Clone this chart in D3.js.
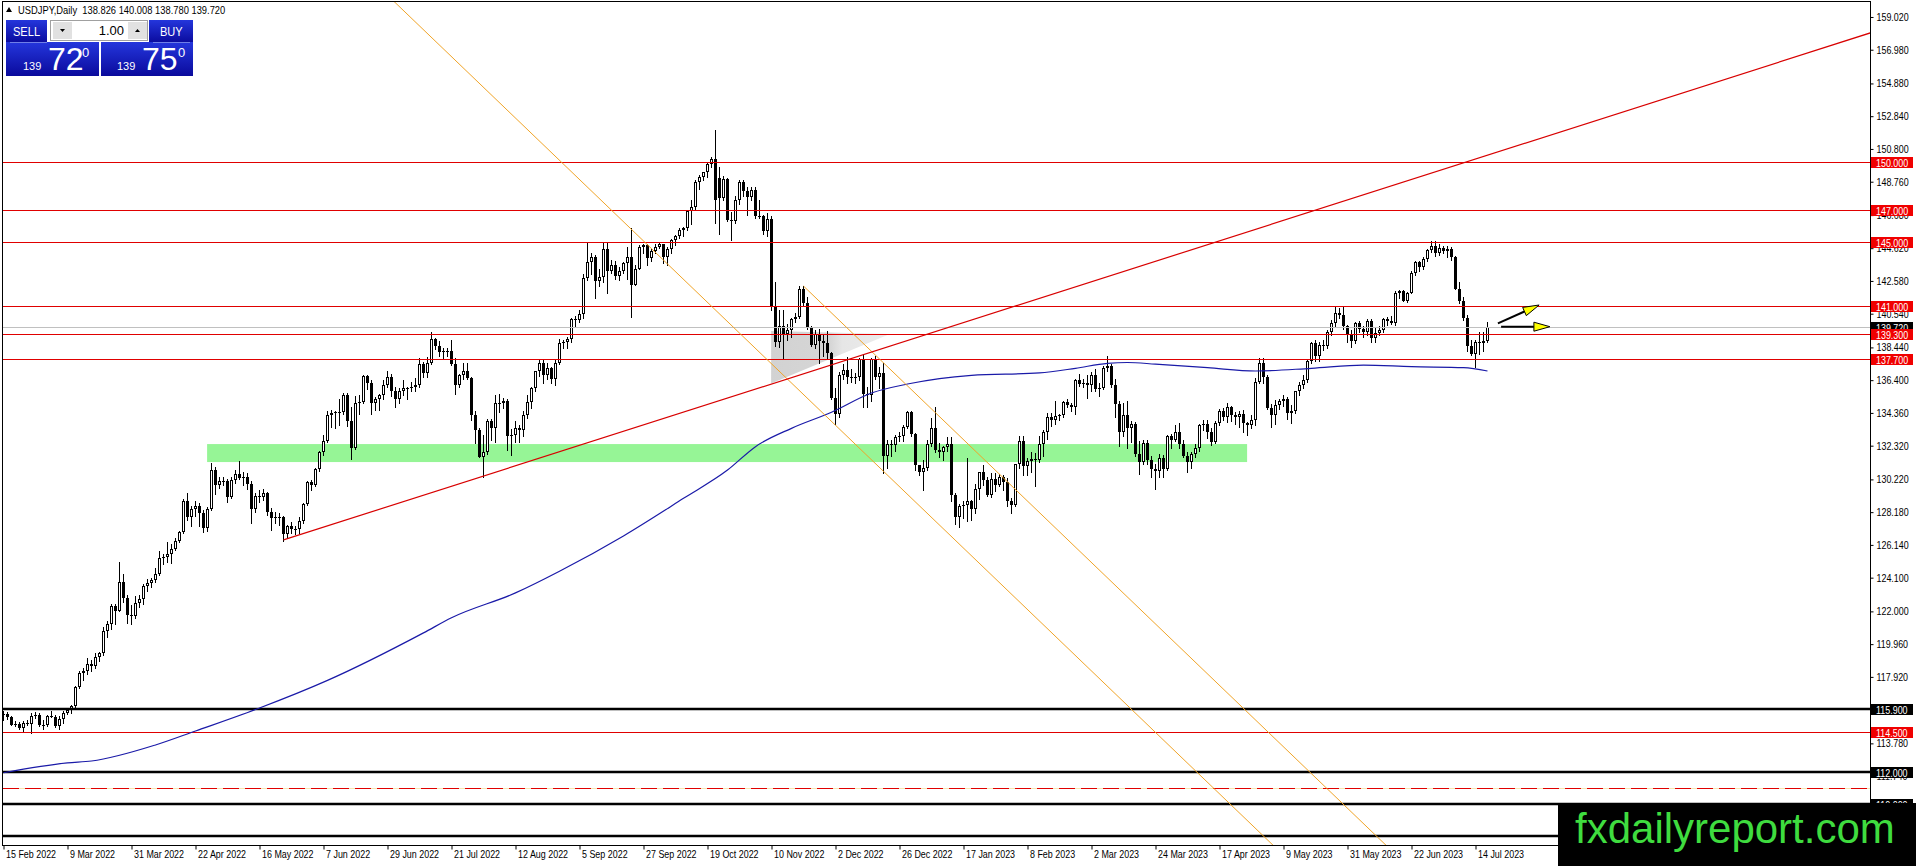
<!DOCTYPE html>
<html>
<head>
<meta charset="utf-8">
<script src="https://d3js.org/d3.v7.min.js"></script>
<style>
 body { margin: 0; background: #fff; overflow: hidden; }
 svg text { font-family: "Liberation Sans", Arial, sans-serif; }
</style>
</head>
<body>
<svg width="1916" height="866"></svg>
<script>
// daily candles, [open, high, low, close], one array per month
var feb22 = [[115.55,115.80,115.25,115.60],[115.60,115.75,115.30,115.45],[115.45,115.50,114.90,114.95],[114.95,115.20,114.85,115.00],[115.00,115.10,114.70,114.75],
 [114.75,115.20,114.50,115.05],[115.05,115.25,114.90,115.00],[115.00,115.70,114.40,115.50],[115.50,115.75,115.35,115.55],[115.55,115.70,114.85,114.95]];
var mar22 = [[114.95,115.25,114.70,114.90],[114.90,115.55,114.85,115.50],[115.50,115.80,115.40,115.45],[115.45,115.55,114.80,114.85],[114.85,115.50,114.65,115.30],
 [115.30,115.80,115.05,115.70],[115.70,116.00,115.60,115.85],[115.85,116.20,115.70,116.10],[116.10,117.35,116.00,117.30],[117.30,118.30,117.25,118.15],
 [118.15,118.45,117.70,118.30],[118.30,119.10,118.10,118.75],[118.75,119.00,118.30,118.60],[118.60,119.40,118.45,119.15],[119.15,119.45,118.90,119.40],
 [119.40,121.00,119.30,120.80],[120.80,121.40,120.40,121.20],[121.20,122.45,120.90,122.35],[122.35,122.45,121.20,122.05],[122.05,125.10,122.00,123.85],
 [123.85,124.30,122.60,122.85],[122.85,123.00,121.30,121.75],[121.75,122.40,121.20,121.70]];
var apr22 = [[121.70,122.95,121.60,122.50],[122.50,123.05,122.30,122.75],[122.75,123.70,122.45,123.60],[123.60,124.00,123.30,123.75],[123.75,124.10,123.50,123.95],
 [123.95,124.70,123.85,124.30],[124.30,125.75,124.25,125.35],[125.35,125.60,124.95,125.40],[125.40,126.30,125.10,125.60],[125.60,126.20,125.00,125.90],
 [125.90,126.55,125.85,126.40],[126.40,127.00,126.30,126.95],[126.95,129.00,126.90,128.90],[128.90,129.40,127.70,127.85],[127.85,128.55,127.30,128.40],
 [128.40,128.90,127.95,128.55],[128.55,128.75,127.30,128.10],[128.10,128.30,126.95,127.20],[127.20,128.50,127.00,128.40],[128.40,131.25,128.30,130.80],
 [130.80,131.00,129.30,129.85]];
var may22 = [[129.85,130.40,129.70,130.15],[130.15,130.40,129.85,130.10],[130.10,130.25,128.80,129.10],[129.10,130.40,129.05,130.20],[130.20,130.80,130.00,130.55],
 [130.55,131.35,130.25,130.30],[130.30,130.65,129.85,130.40],[130.40,130.60,129.60,129.95],[129.95,130.15,127.50,128.35],[128.35,129.35,128.20,129.20],
 [129.20,129.55,128.80,129.15],[129.15,129.60,128.95,129.40],[129.40,129.45,128.00,128.20],[128.20,128.45,127.05,127.80],[127.80,128.20,127.50,127.85],
 [127.85,128.10,127.40,127.90],[127.90,127.95,126.40,126.85],[126.85,127.40,126.55,127.30],[127.30,127.55,126.90,127.10],[127.10,127.30,126.80,127.10],
 [127.10,127.90,126.90,127.60],[127.60,128.75,127.50,128.70]];
var jun22 = [[128.70,130.15,128.60,130.05],[130.05,130.20,129.55,129.90],[129.90,130.95,129.80,130.85],[130.85,132.00,130.75,131.90],[131.90,133.00,131.75,132.60],
 [132.60,134.50,132.55,134.25],[134.25,134.55,133.50,134.35],[134.35,134.45,133.40,134.40],[134.40,135.20,133.60,134.40],[134.40,135.60,134.30,135.45],
 [135.45,135.60,133.55,133.85],[133.85,134.70,131.50,132.20],[132.20,135.40,132.10,134.95],[134.95,135.45,134.30,135.05],[135.05,136.70,134.95,136.65],
 [136.65,136.70,135.85,136.20],[136.20,136.40,134.30,134.95],[134.95,135.35,134.55,135.20],[135.20,135.55,134.55,135.45],[135.45,136.40,135.25,136.10],
 [136.10,137.00,136.00,136.60],[136.60,136.80,135.40,135.70]];
var jul22 = [[135.70,135.95,134.75,135.20],[135.20,135.90,135.00,135.70],[135.70,136.40,135.50,135.90],[135.90,136.00,135.25,135.90],[135.90,136.30,135.70,136.00],
 [136.00,136.55,135.75,136.10],[136.10,137.75,136.00,137.40],[137.40,137.55,136.60,136.85],[136.85,137.85,136.60,137.45],[137.45,139.40,137.40,138.95],
 [138.95,139.05,138.35,138.55],[138.55,138.85,137.90,138.15],[138.15,138.40,137.70,138.20],[138.20,138.40,137.90,138.20],[138.20,138.90,137.35,137.40],
 [137.40,137.80,135.55,136.10],[136.10,136.80,135.95,136.70],[136.70,137.45,136.50,136.95],[136.95,137.45,136.45,136.55],[136.55,136.60,133.90,134.25],
 [134.25,134.50,132.50,133.30]];
var aug22 = [[133.30,133.40,131.60,131.60],[131.60,133.00,130.40,131.90],[131.90,134.00,131.80,133.85],[133.85,134.00,132.70,133.40],[133.40,135.50,132.55,135.00],
 [135.00,135.55,134.40,134.95],[134.95,135.30,134.65,135.10],[135.10,135.20,132.05,132.90],[132.90,133.35,131.75,133.00],[133.00,133.85,132.55,133.45],
 [133.45,133.60,132.55,133.30],[133.30,134.50,132.90,134.20],[134.20,135.45,134.05,135.05],[135.05,135.95,134.65,135.90],[135.90,137.00,135.70,136.95],
 [136.95,137.70,136.65,137.50],[137.50,137.65,136.25,136.75],[136.75,137.50,136.45,137.15],[137.15,137.25,136.20,136.50],[136.50,137.70,136.10,137.45],
 [137.45,138.95,137.40,138.70],[138.70,138.90,138.40,138.75],[138.75,139.10,138.40,138.95]];
var sep22 = [[138.95,140.25,138.80,140.20],[140.20,140.40,139.70,140.15],[140.15,140.80,140.05,140.55],[140.55,143.00,140.30,142.75],[142.75,144.95,142.65,143.75],
 [143.75,144.30,143.00,144.10],[144.10,144.20,141.50,142.55],[142.55,143.30,142.25,142.80],[142.80,144.95,142.50,144.60],[144.60,145.00,141.85,143.20],
 [143.20,143.90,143.10,143.55],[143.55,143.80,142.70,142.90],[142.90,143.45,142.65,143.20],[143.20,143.75,143.10,143.70],[143.70,144.70,142.70,144.05],
 [144.05,145.90,140.35,142.35],[142.35,143.60,142.30,143.35],[143.35,144.80,143.30,144.70],[144.70,144.85,144.35,144.80],[144.80,144.90,143.55,144.00],
 [144.00,144.60,143.85,144.45],[144.45,144.85,144.30,144.70]];
var oct22 = [[144.70,145.00,144.65,144.85],[144.85,144.90,143.70,144.10],[144.10,144.70,143.55,144.55],[144.55,145.20,144.30,145.10],[145.10,145.45,144.80,145.35],
 [145.35,145.90,145.25,145.75],[145.75,145.95,145.40,145.85],[145.85,146.95,145.75,146.95],[146.95,147.65,146.10,147.20],[147.20,148.85,147.05,148.75],
 [148.75,149.15,148.30,149.05],[149.05,149.30,148.85,149.35],[149.35,149.95,149.05,149.85],[149.85,150.30,149.65,150.15],[150.15,151.95,146.20,147.65],
 [149.00,149.70,145.50,147.75],[147.75,149.10,147.60,148.95],[148.95,149.00,146.30,146.40],[146.40,146.90,145.10,146.30],[146.30,147.90,146.20,147.60],
 [147.60,148.85,147.40,148.75]];
var nov22 = [[148.75,148.85,147.90,148.20],[148.20,148.40,146.70,147.80],[147.80,148.40,147.60,148.25],[148.25,148.40,146.50,146.60],[146.60,147.60,146.50,146.65],
 [146.65,146.70,145.50,145.70],[145.70,146.80,145.40,146.45],[146.45,146.60,140.80,141.00],[141.00,142.50,138.50,138.80],[138.80,140.80,138.45,139.80],
 [139.80,140.80,137.70,139.30],[139.30,139.90,138.90,139.50],[139.50,140.30,139.10,140.20],[140.20,140.60,140.00,140.35],[140.35,142.25,140.30,142.10],
 [142.10,142.25,141.10,141.20],[141.20,141.60,139.60,139.70],[139.70,139.80,138.50,138.60],[138.60,139.55,138.40,139.25],[139.25,139.60,137.50,138.85],
 [138.85,139.30,137.90,138.70],[138.70,139.45,137.70,138.10]];
var dec22 = [[138.10,138.15,135.20,135.30],[135.30,135.90,133.65,134.30],[134.30,136.90,134.10,136.70],[136.70,137.40,136.50,137.05],[137.05,137.85,136.20,136.60],
 [136.60,137.10,136.30,136.55],[136.55,136.85,136.20,136.60],[136.60,137.75,136.40,137.70],[137.70,138.00,134.70,135.55],[135.55,136.00,134.70,135.45],
 [135.45,137.80,135.10,137.70],[137.70,137.90,136.50,136.60],[136.60,137.20,135.90,136.85],[136.85,137.50,130.60,131.70],[131.70,132.70,130.90,132.45],
 [132.45,132.70,131.70,132.35],[132.35,133.00,132.00,132.85],[132.85,133.15,132.60,132.90],[132.90,133.60,132.60,133.50],[133.50,134.50,133.40,134.40],
 [134.40,134.45,132.90,133.05],[133.05,133.10,130.80,131.10]];
var jan23 = [[131.10,131.10,130.50,130.70],[130.70,131.40,129.55,130.90],[130.90,132.70,130.80,132.45],[132.45,134.05,132.30,133.40],[133.40,134.75,131.95,132.05],
 [132.05,132.50,131.60,131.90],[131.90,132.30,131.45,132.25],[132.25,132.85,132.00,132.45],[132.45,132.85,128.85,129.25],[129.25,129.40,127.45,127.90],
 [127.90,128.70,127.25,128.55],[128.55,128.85,127.80,128.60],[128.60,131.55,127.60,128.90],[128.90,128.95,127.70,128.40],[128.40,129.95,128.10,129.60],
 [129.60,130.70,129.00,130.65],[130.65,131.10,129.90,130.20],[130.20,130.40,129.20,129.25],[129.25,130.60,129.15,130.25],[130.25,130.60,129.50,129.90],
 [129.90,130.55,129.80,130.40],[130.40,130.50,129.55,130.05]];
var feb23 = [[130.05,130.30,128.55,128.90],[128.90,129.05,128.10,128.65],[128.65,131.20,128.55,131.15],[131.15,132.90,130.95,132.60],[132.60,132.90,130.50,131.05],
 [131.05,131.55,130.50,131.35],[131.35,131.95,130.65,131.50],[131.50,131.85,129.80,131.40],[131.40,132.90,131.30,132.40],[132.40,133.30,131.70,133.15],
 [133.15,134.35,132.75,134.10],[134.10,134.35,133.55,133.90],[133.90,135.10,133.70,134.15],[134.15,134.30,133.90,134.20],[134.20,135.10,134.10,135.05],
 [135.05,135.20,134.70,134.85],[134.85,134.95,134.45,134.70],[134.70,136.50,134.30,136.40],[136.40,136.80,136.05,136.15],[136.15,136.50,135.95,136.20]];
var mar23 = [[136.20,136.75,135.30,136.10],[136.10,136.90,135.75,136.75],[136.75,137.10,135.75,135.85],[135.85,136.20,135.40,135.90],[135.90,137.30,135.85,137.15],
 [137.15,137.90,136.95,137.30],[137.30,137.40,135.95,136.10],[136.10,136.50,134.10,134.90],[134.90,135.10,132.30,133.20],[133.20,134.95,132.95,134.20],
 [134.20,135.10,132.20,133.40],[133.40,133.85,132.55,133.65],[133.65,133.80,131.70,131.80],[131.80,132.60,130.55,131.30],[131.30,132.65,131.20,132.50],
 [132.50,132.65,131.15,131.40],[131.40,131.70,130.40,130.85],[130.85,131.15,129.65,130.75],[130.75,131.80,130.40,131.55],[131.55,131.75,130.40,130.85],
 [130.85,133.00,130.80,132.90],[132.90,133.05,132.15,132.70],[132.70,133.60,132.60,133.15]];
var apr23 = [[133.15,133.75,132.20,132.45],[132.45,132.70,131.60,131.70],[131.70,131.90,130.65,131.30],[131.30,131.95,130.95,131.80],[131.80,132.40,131.60,132.20],
 [132.20,133.65,132.00,133.60],[133.60,133.90,133.30,133.70],[133.70,133.95,132.80,133.15],[133.15,133.45,132.35,132.55],[132.55,133.85,132.50,133.75],
 [133.75,134.60,133.60,134.45],[134.45,134.65,133.90,134.10],[134.10,134.95,133.80,134.70],[134.70,134.80,133.85,134.20],[134.20,134.40,133.70,134.10],
 [134.10,134.50,133.50,134.30],[134.30,134.55,133.20,133.75],[133.75,133.80,133.00,133.60],[133.60,134.20,133.40,133.90],[133.90,136.55,133.60,136.30]];
var may23 = [[136.30,137.75,136.20,137.45],[137.45,137.75,136.25,136.60],[136.60,136.75,134.60,134.65],[134.65,134.90,133.50,134.25],[134.25,135.15,133.70,134.85],
 [134.85,135.20,134.60,135.10],[135.10,135.45,134.80,135.25],[135.25,135.35,134.00,134.35],[134.35,134.85,133.75,134.45],[134.45,135.75,134.35,135.70],
 [135.70,136.30,135.50,136.10],[136.10,136.70,135.90,136.40],[136.40,137.70,136.30,137.60],[137.60,138.75,137.50,138.70],[138.70,138.90,137.60,137.90],
 [137.90,138.75,137.60,138.60],[138.60,138.90,138.30,138.55],[138.55,139.50,138.40,139.40],[139.40,140.15,139.20,139.95],[139.95,140.95,139.80,140.60],
 [140.60,140.90,140.30,140.45],[140.45,140.95,139.60,139.75],[139.75,139.85,138.75,139.30]];
var jun23 = [[139.30,139.50,138.45,138.85],[138.85,140.00,138.70,139.95],[139.95,140.10,139.40,139.60],[139.60,139.75,139.10,139.40],[139.40,140.20,139.20,140.10],
 [140.10,140.20,138.80,139.00],[139.00,139.70,138.80,139.35],[139.35,139.80,139.20,139.55],[139.55,140.25,139.40,140.20],[140.20,140.35,139.85,140.10],
 [140.10,140.40,139.90,139.95],[139.95,141.95,139.85,141.85],[141.85,142.00,141.50,141.95],[141.95,142.00,141.30,141.35],[141.35,141.90,141.25,141.85],
 [141.85,143.20,141.80,143.10],[143.10,143.85,142.95,143.75],[143.75,143.80,143.20,143.45],[143.45,144.05,143.30,143.95],[143.95,144.60,143.85,144.50],
 [144.50,145.05,144.40,144.75],[144.75,145.05,144.15,144.30]];
var jul23 = [[144.30,144.90,144.20,144.65],[144.65,144.75,144.30,144.45],[144.45,144.75,144.10,144.60],[144.60,144.70,143.90,144.10],[144.10,144.15,142.05,142.10],
 [142.10,142.50,141.20,141.30],[141.30,141.55,140.15,140.30],[140.30,140.45,138.20,138.50],[138.50,138.90,137.95,138.05],[138.05,138.90,137.25,138.80],
 [138.80,139.40,138.00,138.70],[138.70,139.40,138.20,138.83],[138.826,140.008,138.78,139.72]];

var candles = [].concat(feb22, mar22, apr22, may22, jun22, jul22, aug22, sep22, oct22, nov22, dec22,
                        jan23, feb23, mar23, apr23, may23, jun23, jul23);

// moving average: [bar, price]
var maLine = [[0,111.95],[16,112.56],[22,112.68],[38,113.68],[48,114.55],[64,115.98],[81,117.7],[105,120.66],
 [112,121.6],[128,123.15],[139,124.5],[155,126.7],[170,129.04],[181,130.8],[188,132.26],[197,133.4],[207,134.4],
 [217,135.6],[226,136.16],[234,136.5],[242,136.7],[259,136.85],[268,137.14],[276,137.45],[281,137.5],[288,137.4],
 [301,137.18],[313,136.97],[327,137.14],[340,137.34],[352,137.24],[365,137.18],[371,136.97]];

var dateBars = [0,16,32,48,64,80,96,112,128,144,160,176,192,208,224,240,256,272,288,304,320,336,352,368];
var dateLabels = ["15 Feb 2022","9 Mar 2022","31 Mar 2022","22 Apr 2022","16 May 2022","7 Jun 2022","29 Jun 2022",
 "21 Jul 2022","12 Aug 2022","5 Sep 2022","27 Sep 2022","19 Oct 2022","10 Nov 2022","2 Dec 2022","26 Dec 2022",
 "17 Jan 2023","8 Feb 2023","2 Mar 2023","24 Mar 2023","17 Apr 2023","9 May 2023","31 May 2023","22 Jun 2023","14 Jul 2023"];
var priceTicks = [159.02,156.98,154.88,152.84,150.80,148.76,146.68,144.62,142.58,140.54,138.44,136.40,134.36,
 132.32,130.22,128.18,126.14,124.10,122.00,119.96,117.92,115.88,113.78,111.74,109.70];

var redLevels = [150, 147, 145, 141, 139.3, 137.7, 114.5];
var blackLevels = [115.9, 112, 110, 108];
var blackLabelled = [115.9, 112, 110];
var dashedLevel = 111;
var lastPrice = 139.72;
var header = ["USDJPY,Daily", "138.826", "140.008", "138.780", "139.720"];

// drawn objects, in [bar, price]
var greenZone = { from: 50.9, to: 310.9, low: 131.3, high: 132.42 };
var grayTriangle = [[191.9,139.46],[221.6,139.28],[191.9,136.2]];
var redTrend = [[70,126.45],[470,158.29]];
var orangeA = [[90,161.81],[320,106.81]];
var orangeB = [[200,142.26],[350,106.39]];
var arrows = [[[373.6,139.94],[383.9,141.08]], [[374.4,139.73],[386.6,139.73]]];

var W = 1916, H = 866;
var plotL = 3, plotR = 1870, plotT = 2, plotB = 845;

var x = d3.scaleLinear().domain([-0.125, 466.625]).range([plotL, plotR]);
var y = d3.scaleLinear().domain([107.45, 159.89]).range([plotB, 3]);
var fmt = d3.format(".3f");

// squeeze Liberation Sans to the narrow terminal font
function narrow(sel, k) {
  sel.each(function() {
    var w = this.getComputedTextLength();
    if (w > 0) d3.select(this).attr("textLength", w * (k || 0.81)).attr("lengthAdjust", "spacingAndGlyphs");
  });
}

var svg = d3.select("svg");
var defs = svg.append("defs");
defs.append("clipPath").attr("id", "plotclip").append("rect")
  .attr("x", plotL).attr("y", plotT).attr("width", plotR - plotL).attr("height", plotB - plotT);

var tri = defs.append("linearGradient").attr("id", "trigrad").attr("x1", 0).attr("x2", 1).attr("y1", 0).attr("y2", 0);
tri.append("stop").attr("offset", "0%").attr("stop-color", "#d2d2d2");
tri.append("stop").attr("offset", "50%").attr("stop-color", "#d6d6d6");
tri.append("stop").attr("offset", "60%").attr("stop-color", "#e6e6e6");
tri.append("stop").attr("offset", "100%").attr("stop-color", "#ececec");

var blue = defs.append("linearGradient").attr("id", "bluegrad").attr("x1", 0).attr("x2", 0).attr("y1", 0).attr("y2", 1);
blue.append("stop").attr("offset", "0%").attr("stop-color", "#2436dc");
blue.append("stop").attr("offset", "100%").attr("stop-color", "#0a0a9c");

svg.append("rect").attr("width", W).attr("height", H).attr("fill", "#fff");

var plot = svg.append("g").attr("clip-path", "url(#plotclip)");

// background objects
plot.append("rect")
  .attr("x", x(greenZone.from)).attr("width", x(greenZone.to) - x(greenZone.from))
  .attr("y", y(greenZone.high)).attr("height", y(greenZone.low) - y(greenZone.high))
  .attr("fill", "#96f596");

plot.append("polygon")
  .attr("points", grayTriangle.map(function(p) { return x(p[0]) + "," + y(p[1]); }).join(" "))
  .attr("fill", "url(#trigrad)");

// candles
var bars = plot.append("g").selectAll("g").data(candles).enter().append("g");
bars.append("line")
  .attr("x1", function(d, i) { return Math.floor(x(i)) + 0.5; })
  .attr("x2", function(d, i) { return Math.floor(x(i)) + 0.5; })
  .attr("y1", function(d) { return Math.round(y(d[1])); })
  .attr("y2", function(d) { return Math.round(y(d[2])) + 1; })
  .attr("stroke", "#000").attr("stroke-width", 1);
bars.append("rect")
  .attr("x", function(d, i) { return d[3] >= d[0] ? Math.floor(x(i)) - 0.5 : Math.floor(x(i)) - 1; })
  .attr("width", function(d) { return d[3] >= d[0] ? 2 : 3; })
  .attr("y", function(d) {
    var t = Math.round(y(Math.max(d[0], d[3])));
    return d[3] >= d[0] ? t + 0.5 : t;
  })
  .attr("height", function(d) {
    var t = Math.round(y(Math.max(d[0], d[3]))), b = Math.round(y(Math.min(d[0], d[3])));
    return d[3] >= d[0] ? Math.max(b - t - 1, 0.01) : Math.max(b - t, 1);
  })
  .attr("fill", function(d) { return d[3] >= d[0] ? "#fff" : "#000"; })
  .attr("stroke", function(d) { return d[3] >= d[0] ? "#000" : "none"; })
  .attr("stroke-width", 1);

// horizontal levels
plot.append("line").attr("x1", plotL).attr("x2", plotR)
  .attr("y1", Math.round(y(lastPrice)) + 0.5).attr("y2", Math.round(y(lastPrice)) + 0.5)
  .attr("stroke", "#c0c0c0");
plot.selectAll(".red").data(redLevels).enter().append("line")
  .attr("x1", plotL).attr("x2", plotR)
  .attr("y1", function(d) { return Math.round(y(d)) + 0.5; })
  .attr("y2", function(d) { return Math.round(y(d)) + 0.5; })
  .attr("stroke", "#e00000");
plot.selectAll(".blk").data(blackLevels).enter().append("line")
  .attr("x1", plotL).attr("x2", plotR)
  .attr("y1", function(d) { return Math.round(y(d)); })
  .attr("y2", function(d) { return Math.round(y(d)); })
  .attr("stroke", "#000").attr("stroke-width", 2.5);
plot.append("line").attr("x1", plotL).attr("x2", plotR)
  .attr("y1", Math.round(y(dashedLevel)) + 0.5).attr("y2", Math.round(y(dashedLevel)) + 0.5)
  .attr("stroke", "#f6e7b0");
plot.append("line").attr("x1", plotL).attr("x2", plotR)
  .attr("y1", Math.round(y(dashedLevel)) + 0.5).attr("y2", Math.round(y(dashedLevel)) + 0.5)
  .attr("stroke", "#e00000").attr("stroke-dasharray", "16,6");

// moving average
plot.append("path").datum(maLine)
  .attr("d", d3.line().curve(d3.curveMonotoneX)
    .x(function(d) { return x(d[0]); }).y(function(d) { return y(d[1]); }))
  .attr("fill", "none").attr("stroke", "#1a1aa8").attr("stroke-width", 1.2);

// trend lines
function seg(p, color, w) {
  plot.append("line")
    .attr("x1", x(p[0][0])).attr("y1", y(p[0][1]))
    .attr("x2", x(p[1][0])).attr("y2", y(p[1][1]))
    .attr("stroke", color).attr("stroke-width", w);
}
seg(orangeA, "#f0a428", 1);
seg(orangeB, "#f0a428", 1);
seg(redTrend, "#d80000", 1.2);

// arrows
arrows.forEach(function(a) {
  var x0 = x(a[0][0]), y0 = y(a[0][1]), x1 = x(a[1][0]), y1 = y(a[1][1]);
  var dx = x1 - x0, dy = y1 - y0, len = Math.sqrt(dx * dx + dy * dy);
  var ux = dx / len, uy = dy / len, hl = 16, hw = 4.5;
  var bx = x1 - ux * hl, by = y1 - uy * hl;
  plot.append("line").attr("x1", x0).attr("y1", y0).attr("x2", bx).attr("y2", by)
    .attr("stroke", "#000").attr("stroke-width", 2);
  plot.append("polygon")
    .attr("points", [[x1, y1], [bx - uy * hw, by + ux * hw], [bx + uy * hw, by - ux * hw]].join(" "))
    .attr("fill", "#ffff00").attr("stroke", "#000").attr("stroke-width", 1);
});

// frame
svg.append("rect").attr("x", 2.5).attr("y", 1.5).attr("width", plotR - 2).attr("height", plotB - 1)
  .attr("fill", "none").attr("stroke", "#000");

// price axis
var yAxis = svg.append("g").attr("transform", "translate(" + (plotR + 0.5) + ",0)")
  .call(d3.axisRight(y).tickValues(priceTicks).tickSize(3).tickPadding(3).tickFormat(fmt));
yAxis.select(".domain").remove();
yAxis.selectAll("text").attr("font-size", 11).attr("fill", "#000")
  .style("font-family", "'Liberation Sans', Arial, sans-serif");
narrow(yAxis.selectAll("text"));

// date axis
var xAxis = svg.append("g").attr("transform", "translate(0," + (plotB + 0.5) + ")")
  .call(d3.axisBottom(x).tickValues(dateBars).tickSize(4)
    .tickFormat(function(d, i) { return dateLabels[i]; }));
xAxis.select(".domain").remove();
xAxis.selectAll("text").attr("text-anchor", "start").attr("x", 2).attr("y", 5)
  .attr("font-size", 11).attr("fill", "#000")
  .style("font-family", "'Liberation Sans', Arial, sans-serif");
narrow(xAxis.selectAll("text"));

// price boxes on the axis
function priceBox(v, bg) {
  var yy = Math.round(y(v));
  svg.append("rect").attr("x", plotR + 1).attr("y", yy - 5).attr("width", 42).attr("height", 11).attr("fill", bg);
  var t = svg.append("text").attr("x", plotR + 6).attr("y", yy + 4.5).attr("font-size", 11).attr("fill", "#fff").text(fmt(v));
  narrow(t);
}
priceBox(lastPrice, "#000");
blackLabelled.forEach(function(v) { priceBox(v, "#000"); });
redLevels.forEach(function(v) { priceBox(v, "#f00000"); });

// header line
svg.append("polygon").attr("points", "6,12 12,12 9,7").attr("fill", "#000");
var head = svg.append("text").attr("x", 18).attr("y", 14).attr("font-size", 11).attr("fill", "#000")
  .style("white-space", "pre").text(header[0] + "  " + header.slice(1).join(" "));
narrow(head, 0.85);

// trade panel
var panel = svg.append("g");
panel.append("rect").attr("x", 6).attr("y", 20).attr("width", 41).attr("height", 23).attr("fill", "url(#bluegrad)");
panel.append("rect").attr("x", 149).attr("y", 20).attr("width", 44).attr("height", 23).attr("fill", "url(#bluegrad)");
panel.append("rect").attr("x", 6).attr("y", 42).attr("width", 93).attr("height", 34).attr("fill", "url(#bluegrad)");
panel.append("rect").attr("x", 101).attr("y", 42).attr("width", 92).attr("height", 34).attr("fill", "url(#bluegrad)");
panel.append("line").attr("x1", 10).attr("x2", 47).attr("y1", 42.5).attr("y2", 42.5).attr("stroke", "#6f7fe8");
panel.append("line").attr("x1", 153).attr("x2", 190).attr("y1", 42.5).attr("y2", 42.5).attr("stroke", "#6f7fe8");
panel.append("rect").attr("x", 50.5).attr("y", 20.5).attr("width", 97).attr("height", 20)
  .attr("fill", "#fff").attr("stroke", "#a0a0a0");
panel.append("rect").attr("x", 53).attr("y", 22).attr("width", 19).attr("height", 17).attr("fill", "#e1e1e1");
panel.append("rect").attr("x", 128).attr("y", 22).attr("width", 19).attr("height", 17).attr("fill", "#e1e1e1");
panel.append("polygon").attr("points", "60,29 65,29 62.5,32").attr("fill", "#000");
panel.append("polygon").attr("points", "135,32 140,32 137.5,29").attr("fill", "#000");
panel.append("text").attr("x", 124).attr("y", 35).attr("text-anchor", "end").attr("font-size", 13).text("1.00");
var sb = panel.append("text").attr("x", 13).attr("y", 36).attr("font-size", 13).attr("fill", "#fff").text("SELL");
narrow(sb, 0.85);
sb = panel.append("text").attr("x", 160).attr("y", 36).attr("font-size", 13).attr("fill", "#fff").text("BUY");
narrow(sb, 0.85);
[[23, 48, 82, "72"], [117, 142, 178, "75"]].forEach(function(q) {
  panel.append("text").attr("x", q[0]).attr("y", 70).attr("font-size", 11).attr("fill", "#fff").text("139");
  panel.append("text").attr("x", q[1]).attr("y", 70).attr("font-size", 32).attr("fill", "#fff").text(q[3]);
  panel.append("text").attr("x", q[2]).attr("y", 57).attr("font-size", 13).attr("fill", "#fff").text("0");
});

// watermark
svg.append("rect").attr("x", 1558).attr("y", 803).attr("width", W - 1558).attr("height", H - 803).attr("fill", "#000");
svg.append("text").attr("x", 1575).attr("y", 843).attr("font-size", 42).attr("fill", "#3fdc3f").text("fxdailyreport.com");
</script>
</body>
</html>
